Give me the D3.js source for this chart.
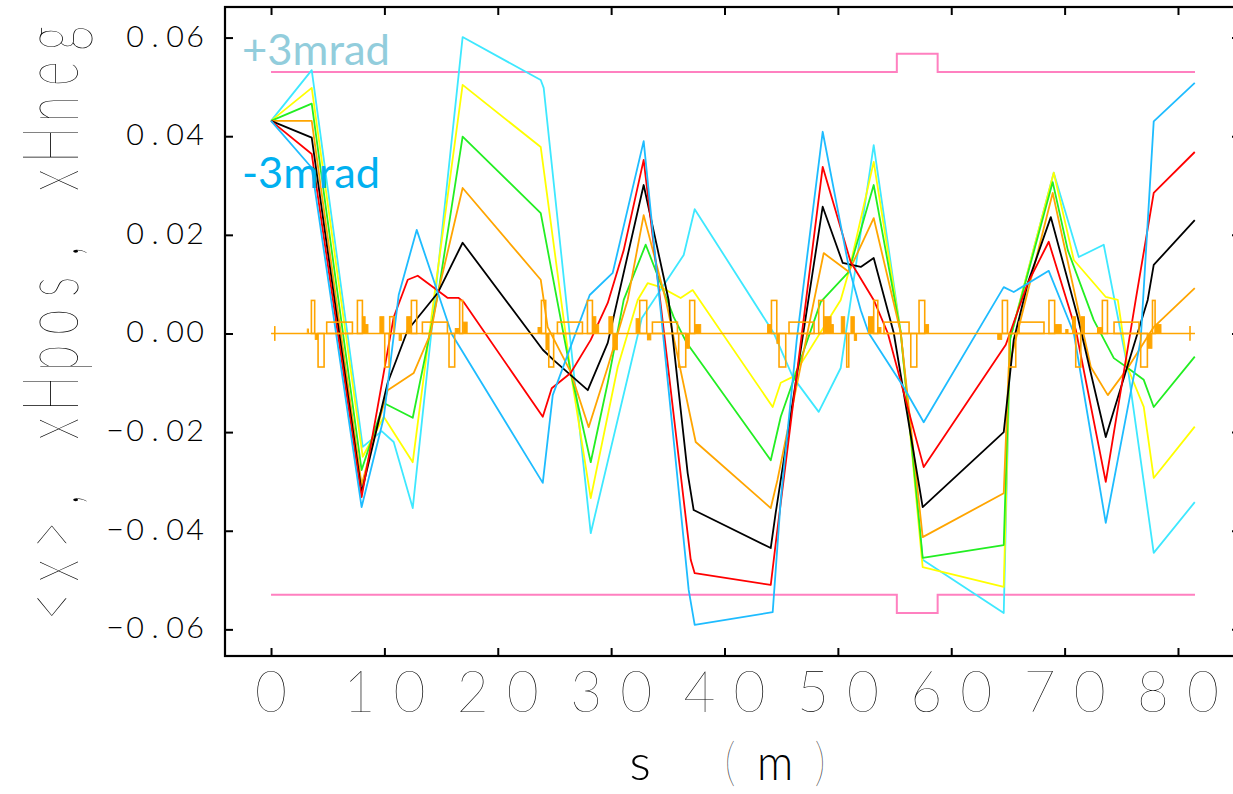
<!DOCTYPE html>
<html>
<head>
<meta charset="utf-8">
<script src="https://cdn.jsdelivr.net/npm/d3@7"></script>
<style>
  body { margin: 0; background: #fff; }
  svg { display: block; }
</style>
</head>
<body>
<svg id="chart" width="1233" height="794"></svg>
<script>
// ---- axis ticks -------------------------------------------------------
const sTicks = [0, 10, 20, 30, 40, 50, 60, 70, 80];
const xTicks = [-0.06, -0.04, -0.02, 0.00, 0.02, 0.04, 0.06];

// ---- beam centroid <x> (m) versus s (m), one trace per launch angle ----
const trajP3 = [[0,0.0431],[3.59,0.0534],[8.09,-0.0230],[9.76,-0.0198],[10.82,-0.0220],[12.50,-0.0354],[16.90,0.0601],[23.79,0.0514],[24.05,0.0498],[28.20,-0.0405],[32.70,0.0031],[36.40,0.0159],[37.37,0.0252],[44.34,0.0001],[46.02,-0.0088],[48.31,-0.0159],[50.25,-0.0070],[53.16,0.0382],[55.55,0.0001],[57.48,-0.0459],[64.63,-0.0567],[65.20,-0.0010],[69.04,0.0326],[71.25,0.0155],[73.45,0.0180],[75.57,-0.0070],[77.86,-0.0445],[81.48,-0.0342]];
const trajP2 = [[0,0.0431],[3.59,0.0498],[8.09,-0.0250],[9.94,-0.0169],[12.50,-0.0261],[14.35,0.0068],[16.90,0.0504],[23.79,0.0378],[26.43,-0.0078],[28.20,-0.0334],[30.58,-0.0068],[32.34,0.0068],[33.22,0.0102],[34.37,0.0094],[36.13,0.0072],[37.19,0.0088],[44.25,-0.0149],[44.96,-0.0100],[46.02,-0.0088],[50.25,0.0068],[50.96,0.0125],[53.16,0.0348],[55.55,0.0001],[57.48,-0.0474],[64.63,-0.0514],[65.20,-0.0010],[69.04,0.0326],[70.81,0.0149],[73.63,0.0074],[74.69,0.0068],[75.57,-0.0070],[76.98,-0.0149],[77.86,-0.0293],[81.48,-0.0189]];
const trajP1 = [[0,0.0431],[3.59,0.0466],[7.99,-0.0277],[9.94,-0.0141],[12.50,-0.0171],[14.79,0.0088],[16.90,0.0399],[23.79,0.0244],[26.43,-0.0078],[28.20,-0.0261],[29.70,-0.0100],[31.11,0.0068],[33.05,0.0180],[35.52,0.0033],[36.66,-0.0019],[44.08,-0.0257],[44.96,-0.0169],[48.49,0.0064],[50.96,0.0125],[53.16,0.0301],[55.55,0.0001],[57.48,-0.0455],[64.63,-0.0429],[65.20,-0.0010],[68.95,0.0307],[70.28,0.0169],[72.57,0.0027],[74.34,-0.0050],[75.57,-0.0070],[76.98,-0.0094],[77.86,-0.0149],[81.48,-0.0047]];
const traj0  = [[0,0.0431],[3.59,0.0431],[7.99,-0.0307],[9.06,-0.0216],[10.29,-0.0115],[12.59,-0.0080],[14.09,0.0001],[14.79,0.0088],[16.90,0.0295],[23.79,0.0109],[24.40,0.0013],[26.43,-0.0078],[28.02,-0.0190],[29.70,-0.0068],[31.46,0.0068],[32.87,0.0240],[34.82,0.0068],[37.46,-0.0220],[44.08,-0.0354],[44.67,-0.0297],[48.75,0.0163],[50.96,0.0125],[53.16,0.0234],[55.55,0.0001],[57.48,-0.0413],[64.63,-0.0324],[65.07,-0.0068],[68.95,0.0285],[72.31,-0.0068],[73.81,-0.0125],[75.57,-0.0070],[77.86,0.0013],[81.48,0.0092]];
const trajM1 = [[0,0.0431],[3.59,0.0397],[7.99,-0.0322],[10.29,-0.0100],[12.06,0.0007],[14.70,0.0082],[16.90,0.0184],[23.97,-0.0033],[24.93,-0.0054],[27.94,-0.0115],[29.70,-0.0019],[32.87,0.0301],[35.07,0.0068],[36.75,-0.0283],[37.28,-0.0358],[44.08,-0.0435],[44.52,-0.0363],[48.66,0.0257],[50.43,0.0143],[52.02,0.0135],[53.16,0.0153],[54.93,0.0001],[57.48,-0.0352],[64.63,-0.0200],[65.51,-0.0013],[66.75,0.0102],[68.78,0.0236],[71.16,0.0033],[73.63,-0.0210],[77.33,0.0068],[77.86,0.0139],[81.48,0.0230]];
const trajM2 = [[0,0.0431],[3.59,0.0364],[7.99,-0.0332],[9.94,-0.0080],[10.82,0.0033],[12.06,0.0109],[12.94,0.0117],[15.59,0.0072],[16.55,0.0072],[16.99,0.0064],[23.97,-0.0169],[24.76,-0.0111],[26.43,-0.0080],[28.20,-0.0013],[29.70,0.0062],[31.11,0.0169],[32.87,0.0352],[37.02,-0.0459],[37.37,-0.0486],[44.08,-0.0510],[44.52,-0.0425],[48.66,0.0338],[51.13,0.0145],[53.16,0.0068],[54.40,0.0001],[57.57,-0.0271],[64.81,-0.0023],[66.75,0.0102],[68.60,0.0186],[70.99,0.0007],[73.63,-0.0301],[76.27,0.0068],[77.86,0.0285],[81.48,0.0368]];
const trajM3 = [[0,0.0431],[3.59,0.0336],[7.99,-0.0352],[9.94,-0.0171],[11.26,0.0078],[12.85,0.0210],[15.94,-0.0001],[23.97,-0.0303],[24.85,-0.0125],[28.11,0.0078],[30.14,0.0123],[32.87,0.0390],[36.84,-0.0520],[37.37,-0.0591],[44.25,-0.0565],[44.96,-0.0338],[46.37,-0.0013],[48.66,0.0409],[50.96,0.0135],[52.02,0.0047],[52.72,0.0001],[55.81,-0.0109],[57.57,-0.0180],[64.63,0.0094],[65.51,0.0084],[68.60,0.0127],[70.81,0.0001],[73.63,-0.0384],[76.71,-0.0013],[77.86,0.0430],[81.48,0.0508]];

// ---- aperture limits xHpos / xHneg ------------------------------------
const apertureS = [0, 55.2, 55.2, 58.8, 58.8, 81.5];
const apertureX = [0.053, 0.053, 0.0567, 0.0567, 0.053, 0.053];

// ---- magnet profile along the line -------------------------------------
const quads = [[3.56,3.85,0.0067],[4.15,4.68,-0.0068],[7.62,8.06,0.0067],[10.03,10.41,-0.0068],[10.47,10.85,0.0034],[12.38,12.85,0.0067],[15.70,16.20,-0.0068],[16.64,16.90,0.0067],
  [23.85,24.23,0.0067],[24.50,24.93,-0.0068],[27.91,28.35,0.0067],[32.52,33.14,0.0067],[35.96,36.58,-0.0068],[36.93,37.37,0.0067],
  [44.14,44.61,0.0067],[44.81,45.40,-0.0068],[48.31,48.75,0.0067],[50.78,50.96,-0.0068],[53.16,53.52,0.0067],[56.43,56.96,-0.0068],[57.16,57.66,0.0067],
  [64.51,64.96,0.0067],[65.10,65.69,-0.0068],[68.62,69.12,0.0067],[70.98,71.43,-0.0068],[73.33,73.78,0.0067],[76.71,77.30,-0.0068],[77.75,77.98,0.0067]];
const bends = [[4.91,7.18],[13.35,15.56],[25.26,27.47],[33.64,35.85],[45.69,47.90],[54.07,56.28],[65.98,68.18],[74.36,76.56]];
const bendHeight = 0.0023;
const sextupoles = [[3.20,3.30,0.0009],[3.90,4.10,-0.0012],[8.06,8.30,0.0034],[8.30,8.55,0.0018],[9.60,9.95,0.0034],[11.3,11.5,-0.0014],[11.97,12.32,0.0034],[16.25,16.55,0.0010],[16.95,17.3,0.0023],
  [23.55,23.8,0.0012],[24.25,24.45,-0.0033],[28.4,28.65,0.0034],[28.65,28.9,0.0018],[29.8,30.15,0.0034],[30.15,30.55,-0.0033],[32.2,32.5,0.003],[33.2,33.5,-0.0013],[36.65,36.9,-0.003],[37.4,37.9,0.0018],
  [43.8,44.1,0.0018],[44.62,44.8,-0.0020],[48.8,49.4,0.0034],[49.4,49.6,0.0018],[50.3,50.6,0.0034],[51.15,51.45,0.0034],[51.45,51.65,-0.0014],[52.7,53.1,0.0034],[53.55,53.8,0.0012],[57.7,58.0,0.0018],
  [64.1,64.45,-0.0012],[69.15,69.7,0.0018],[70.1,70.3,0.0008],[70.7,70.95,0.0034],[71.45,71.75,0.0034],[72.9,73.25,0.0012],[77.35,77.7,-0.003],[78.0,78.5,0.0018]];
const markers = [0.33, 81.06];
const latticeEnd = 81.5;

const series = [
  { pts: trajP3, color: "#3ee8ff" },
  { pts: trajP2, color: "#ffff00" },
  { pts: trajP1, color: "#22ee22" },
  { pts: traj0,  color: "#ffa500" },
  { pts: trajM1, color: "#000000" },
  { pts: trajM2, color: "#ff0000" },
  { pts: trajM3, color: "#1ebcff" }
];

const svg = d3.select("#chart");
const frame = { left: 225, right: 1240, top: 7, bottom: 656 };

const x = d3.scaleLinear().domain([-4.06, 85.47]).range([frame.left, frame.right]);
const y = d3.scaleLinear().domain([-0.0654, 0.0662]).range([frame.bottom, frame.top]);

const FONT = "Lato, 'DejaVu Sans', sans-serif";

// fixed-pitch text: each glyph centred in its own cell
function monoText(g, str, cx0, baseY, pitch, size, sx, weight) {
  Array.from(str).forEach((c, i) => {
    if (c === " ") return;
    g.append("text")
      .attr("transform", `translate(${cx0 + i * pitch},${baseY}) scale(${sx},1)`)
      .attr("text-anchor", "middle")
      .attr("font-family", FONT)
      .attr("font-weight", weight)
      .attr("font-size", size)
      .attr("fill", "#000")
      .text(c);
  });
}

// ---- axes (inward ticks on all four sides) ---------------------------
const tickLen = 8;
const axes = svg.append("g").attr("stroke", "#000").attr("fill", "none");
axes.append("g").attr("transform", `translate(0,${frame.bottom})`)
  .call(d3.axisTop(x).tickValues(sTicks).tickSize(tickLen).tickFormat(""));
axes.append("g").attr("transform", `translate(0,${frame.top})`)
  .call(d3.axisBottom(x).tickValues(sTicks).tickSize(tickLen).tickFormat(""));
axes.append("g").attr("transform", `translate(${frame.left},0)`)
  .call(d3.axisRight(y).tickValues(xTicks).tickSize(tickLen).tickFormat(""));
axes.append("g").attr("transform", `translate(${frame.right},0)`)
  .call(d3.axisLeft(y).tickValues(xTicks).tickSize(tickLen).tickFormat(""));
axes.selectAll(".domain").remove();
axes.selectAll(".tick line").attr("stroke", "#000").attr("stroke-width", 2);
axes.append("rect")
  .attr("x", frame.left).attr("y", frame.top)
  .attr("width", frame.right - frame.left).attr("height", frame.bottom - frame.top)
  .attr("stroke", "#000").attr("stroke-width", 2.2).attr("fill", "none");

// tick labels
const labels = svg.append("g");
const fmtY = d3.format(".2f");
xTicks.forEach(v => {
  const s = fmtY(v);
  const n = Array.from(s).length;
  const pitch = 20;
  monoText(labels, s, 205 - (n - 0.5) * pitch, y(v) + 9, pitch, 29, 1.05, 300);
});
sTicks.forEach(v => {
  const s = String(v);
  const n = s.length;
  const pitch = 50;
  monoText(labels, s, x(v) - (n - 1) * pitch / 2, 712, pitch, 58, 0.95, 200);
});

// axis titles
monoText(labels, "s", 640, 780, 45, 50, 1.0, 300);
monoText(labels, "m", 775, 780, 45, 50, 0.9, 300);
monoText(labels, "(", 730, 780, 90, 52, 0.85, 200);
monoText(labels, ")", 820, 780, 90, 52, 0.85, 200);
const yTitle = labels.append("g").attr("transform", "translate(78,624) rotate(-90)");
monoText(yTitle, "<x>, xHpos, xHneg", 17.7, 0, 35.5, 78, 0.62, 200);

// ---- aperture --------------------------------------------------------
const apLine = d3.line().x(d => x(d[0])).y(d => y(d[1]));
const apUpper = apertureS.map((s, i) => [s, apertureX[i]]);
const apLower = apertureS.map((s, i) => [s, -apertureX[i]]);
const plot = svg.append("g");
plot.append("path").attr("d", apLine(apUpper)).attr("fill", "none").attr("stroke", "#ff80c0").attr("stroke-width", 2);
plot.append("path").attr("d", apLine(apLower)).attr("fill", "none").attr("stroke", "#ff80c0").attr("stroke-width", 2);

// ---- trajectories -----------------------------------------------------
const line = d3.line().x(d => x(d[0])).y(d => y(d[1]));
series.forEach(sr => {
  plot.append("path")
    .attr("d", line(sr.pts))
    .attr("fill", "none")
    .attr("stroke", sr.color)
    .attr("stroke-width", 1.8)
    .attr("stroke-linejoin", "round");
});

// ---- magnet profile ---------------------------------------------------
const lat = svg.append("g").attr("stroke", "#ffa500").attr("stroke-width", 1.6);
lat.append("line").attr("x1", x(0)).attr("x2", x(latticeEnd)).attr("y1", y(0)).attr("y2", y(0));
markers.forEach(m => {
  lat.append("line").attr("x1", x(m)).attr("x2", x(m)).attr("y1", y(0.0015)).attr("y2", y(-0.0015));
});
bends.forEach(b => {
  lat.append("rect").attr("x", x(b[0])).attr("width", x(b[1]) - x(b[0]))
    .attr("y", y(bendHeight)).attr("height", y(0) - y(bendHeight)).attr("fill", "none");
});
quads.forEach(q => {
  const top = Math.max(q[2], 0), bot = Math.min(q[2], 0);
  lat.append("rect").attr("x", x(q[0])).attr("width", x(q[1]) - x(q[0]))
    .attr("y", y(top)).attr("height", y(bot) - y(top)).attr("fill", "none");
});
sextupoles.forEach(q => {
  const top = Math.max(q[2], 0), bot = Math.min(q[2], 0);
  lat.append("rect").attr("x", x(q[0])).attr("width", x(q[1]) - x(q[0]))
    .attr("y", y(top)).attr("height", y(bot) - y(top)).attr("fill", "#ffa500").attr("stroke-width", 1);
});

// ---- angle annotations ------------------------------------------------
svg.append("text").attr("x", 242).attr("y", 65)
  .attr("font-family", "Lato, 'Open Sans', sans-serif").attr("font-size", 42)
  .attr("textLength", 148).attr("lengthAdjust", "spacingAndGlyphs")
  .attr("fill", "#92cddc").text("+3mrad");
svg.append("text").attr("x", 242).attr("y", 188)
  .attr("font-family", "Lato, 'Open Sans', sans-serif").attr("font-size", 42)
  .attr("textLength", 138).attr("lengthAdjust", "spacingAndGlyphs")
  .attr("fill", "#00b0f0").text("-3mrad");
</script>
</body>
</html>
